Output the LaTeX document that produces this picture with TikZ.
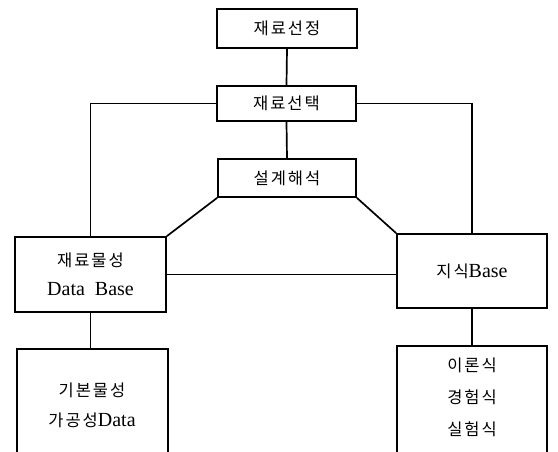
\documentclass[tikz,border=0pt]{standalone}
\usepackage{fontspec}
\setmainfont{Liberation Serif}
\newfontfamily\kr[LetterSpace=12]{Noto Sans CJK KR}
\begin{document}
\begin{tikzpicture}[x=1pt,y=-1pt,
  box/.style={draw, line width=1.7pt, inner sep=0pt, align=center},
  link/.style={draw, line width=1.7pt},
  kt/.style={font=\kr\fontsize{16.5}{30}\selectfont}]
\useasboundingbox (0,0) rectangle (558,451);
\clip (0,0) rectangle (558,451);
% top boxes
\node[box, kt, minimum width=140pt, minimum height=39pt] (sel) at (287,28.5) {재료선정};
\node[box, kt, minimum width=139pt, minimum height=35pt] (cho) at (286.5,103.5) {재료선택};
\node[box, kt, minimum width=138pt, minimum height=38pt] (des) at (287,178) {설계해석};
% middle boxes
\node[box, kt, minimum width=151pt, minimum height=75pt] (mat) at (90.5,274.5)
  {재료물성\\[-1pt]{\rmfamily\fontsize{20}{30}\selectfont Data\ \ Base}};
\node[box, kt, minimum width=150pt, minimum height=74pt] (know) at (472,271)
  {지식{\rmfamily\fontsize{20}{30}\selectfont Base}};
% bottom boxes (open at the bottom edge of the picture)
\node[box, minimum width=151pt, minimum height=140pt] (basic) at (92.5,419) {};
\node[kt, align=center] (basictxt) at (92,405)
  {기본물성\\가공성{\rmfamily\fontsize{20}{30}\selectfont Data}};
\node[box, minimum width=150pt, minimum height=140pt] (theo) at (472,416) {};
\node[kt, align=center, font=\kr\fontsize{16.5}{32}\selectfont] (theotxt) at (472,397)
  {이론식\\경험식\\실험식};
% connectors
\draw[link] (sel.south) -- (cho.north);
\draw[link] (cho.south) -- (des.north);
\draw[link] (cho.west) -| (mat.north);
\draw[link] (cho.east) -| (know.north);
\draw[link] (des.south west) -- (mat.north east);
\draw[link] (des.south east) -- (know.north west);
\draw[link] (mat.east) -- (mat.east -| know.west);
\draw[link] (mat.south) -- (mat.south |- basic.north);
\draw[link] (know.south) -- (theo.north);
\end{tikzpicture}
\end{document}
